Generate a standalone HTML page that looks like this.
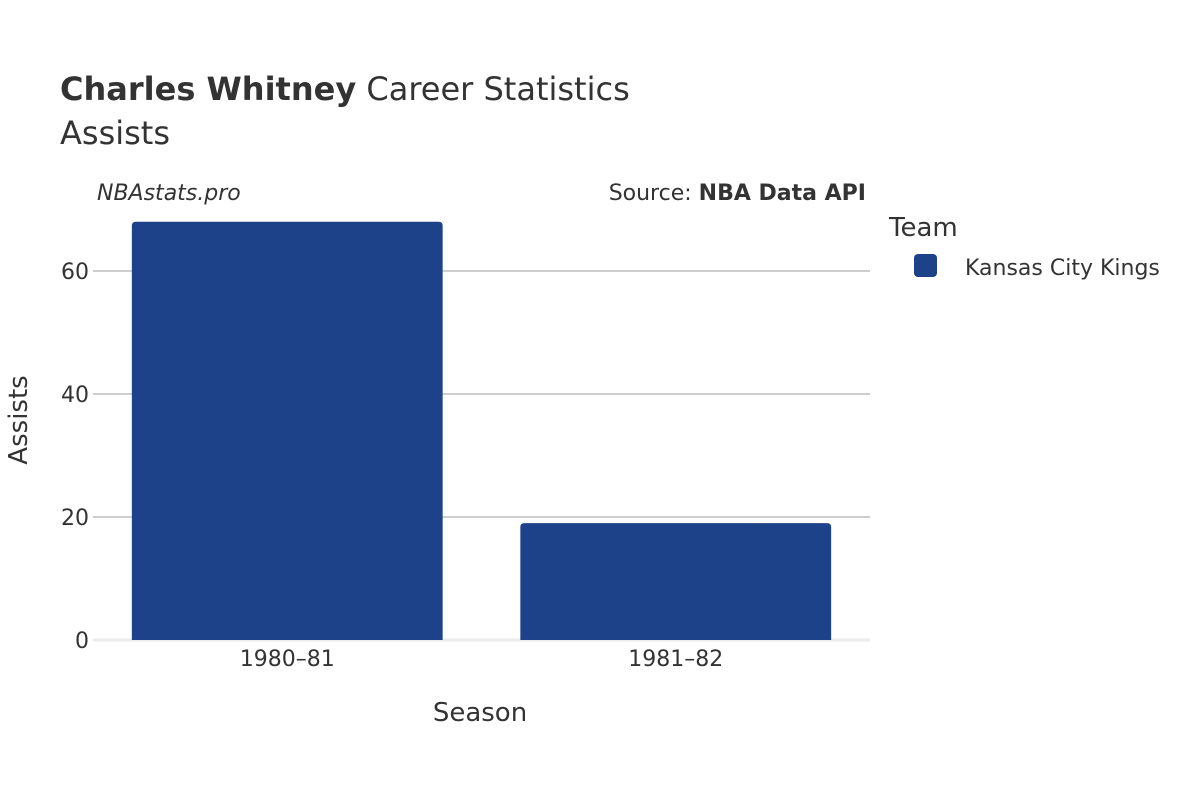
<!DOCTYPE html>
<html><head><meta charset="utf-8"><style>
body{margin:0;background:#fff;font-family:"DejaVu Sans","Liberation Sans",sans-serif}
</style></head><body>
<svg id="chart" width="1200" height="800" xmlns="http://www.w3.org/2000/svg" font-family="DejaVu Sans, Liberation Sans, sans-serif">
<text x="60" y="100" font-size="32" fill="#333"><tspan font-weight="bold">Charles Whitney</tspan> Career Statistics</text>
<text x="60" y="144" font-size="32" fill="#333">Assists</text>
<text x="97" y="200" font-size="22" font-style="italic" fill="#333">NBAstats.pro</text>
<text x="866" y="200" font-size="22" fill="#333" text-anchor="end">Source: <tspan font-weight="bold">NBA Data API</tspan></text>
<g id="grid"></g>
<g id="bars"></g>
<g id="xt"></g>
<text x="480" y="721" font-size="26" fill="#333" text-anchor="middle">Season</text>
<text transform="translate(27,420) rotate(-90)" font-size="26" fill="#333" text-anchor="middle">Assists</text>
<text x="889" y="236" font-size="26" fill="#333">Team</text>
<rect x="914" y="254" width="23" height="23" rx="4" fill="#1d4289"/>
<text x="965" y="275" font-size="22" fill="#333">Kansas City Kings</text>
</svg>
<script>
const categories=["1980–81","1981–82"];
const assists=[68,19];
const yTicks=[0,20,40,60];
const ns="http://www.w3.org/2000/svg";
const x0=93,x1=870,y0=640,pxPerUnit=369/60;
const y=v=>y0-v*pxPerUnit;
const band=(x1-x0)/categories.length;
const grid=document.getElementById('grid'),bars=document.getElementById('bars'),xt=document.getElementById('xt');
yTicks.forEach(t=>{
 const l=document.createElementNS(ns,'line');
 
 
 l.setAttribute('x1',x0);l.setAttribute('x2',x1);l.setAttribute('y1',y(t));l.setAttribute('y2',y(t));
 l.setAttribute('stroke',t===0?'#ebebeb':'#b0b0b0');l.setAttribute('stroke-width',t===0?3:1.3);
 grid.appendChild(l);
 const tx=document.createElementNS(ns,'text');
 
 
 tx.setAttribute('x',89);tx.setAttribute('y',y(t)+8);tx.setAttribute('text-anchor','end');
 tx.setAttribute('font-size','22');tx.setAttribute('fill','#333');tx.textContent=t;
 grid.appendChild(tx);
});
categories.forEach((c,i)=>{
 const w=band*0.8,bx=x0+band*i+band*0.1,top=y(assists[i]),h=y0-top,r=4;
 const p=document.createElementNS(ns,'path');
 
 
 p.setAttribute('d',`M${bx},${y0}V${top+r}Q${bx},${top} ${bx+r},${top}H${bx+w-r}Q${bx+w},${top} ${bx+w},${top+r}V${y0}Z`);
 p.setAttribute('fill','#1d4289');
 bars.appendChild(p);
 const tx=document.createElementNS(ns,'text');
 
 
 tx.setAttribute('x',bx+w/2);tx.setAttribute('y',666);tx.setAttribute('text-anchor','middle');
 tx.setAttribute('font-size','22');tx.setAttribute('fill','#333');tx.textContent=c;
 xt.appendChild(tx);
});
</script>
</body></html>
